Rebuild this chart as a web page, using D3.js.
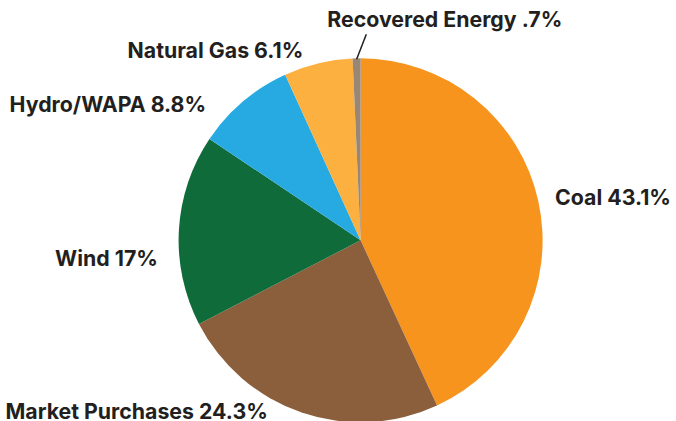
<!doctype html>
<html>
<head>
  <meta charset="utf-8">
  <title>Energy mix</title>
  <script src="https://d3js.org/d3.v7.min.js"></script>
  <style>
    body { margin: 0; background: #fff; }
    .lbl {
      font-family: Inter, "Noto Sans", sans-serif;
      font-weight: 700;
      font-size: 21.3px;
      fill: #231f20;
    }
  </style>
</head>
<body>
  <div id="chart"></div>
  <script>
    // slices, clockwise from 12 o'clock
    var sources = ["Coal", "Market Purchases", "Wind", "Hydro/WAPA", "Natural Gas", "Recovered Energy"];
    var shares = [43.1, 24.3, 17, 8.8, 6.1, 0.7];
    var shareText = ["43.1%", "24.3%", "17%", "8.8%", "6.1%", ".7%"];
    var colors = ["#f7941d", "#8b5e3c", "#0f6b3a", "#27aae1", "#fbb040", "#998675"];

    // hand nudges for labels from the point just outside each slice
    var labelAnchor = ["start", "end", "end", "end", "end", "start"];
    var labelNudge = [[5, -2], [-30, -13], [-9, 29], [-29, 12], [-12, -2], [-29, -27]];

    var width = 676, height = 421;
    var cx = 360.6, cy = 240.3, radius = 182;

    var svg = d3.select("#chart").append("svg")
      .attr("width", width)
      .attr("height", height);

    var g = svg.append("g")
      .attr("transform", "translate(" + cx + "," + cy + ")");

    var data = sources.map(function(s, i) {
      return { name: s, value: shares[i], text: shareText[i], i: i };
    });

    var pie = d3.pie()
      .sort(null)
      .value(function(d) { return d.value; });

    var arc = d3.arc().innerRadius(0).outerRadius(radius);

    var arcs = pie(data);

    g.selectAll("path")
      .data(arcs)
      .enter()
      .append("path")
      .attr("d", arc)
      .attr("fill", function(d) { return colors[d.data.i]; });

    function polar(a, r) {
      return [Math.sin(a) * r, -Math.cos(a) * r];
    }

    g.selectAll("text")
      .data(arcs)
      .enter()
      .append("text")
      .attr("class", "lbl")
      .attr("dominant-baseline", "central")
      .attr("text-anchor", function(d) { return labelAnchor[d.data.i]; })
      .attr("x", function(d) {
        var p = polar((d.startAngle + d.endAngle) / 2, radius + 12);
        return p[0] + labelNudge[d.data.i][0];
      })
      .attr("y", function(d) {
        var p = polar((d.startAngle + d.endAngle) / 2, radius + 12);
        return p[1] + labelNudge[d.data.i][1];
      })
      .text(function(d) { return d.data.name + " " + d.data.text; });

    // leader for the tiny slice
    var tiny = arcs[arcs.length - 1];
    var mid = (tiny.startAngle + tiny.endAngle) / 2;
    var p0 = polar(mid, radius - 1);
    var p1 = polar(mid, radius + 12);
    g.append("line")
      .attr("x1", p0[0])
      .attr("y1", p0[1])
      .attr("x2", p1[0] + 10)
      .attr("y2", p1[1] - 12)
      .attr("stroke", "#231f20")
      .attr("stroke-width", 1.5);
  </script>
</body>
</html>
